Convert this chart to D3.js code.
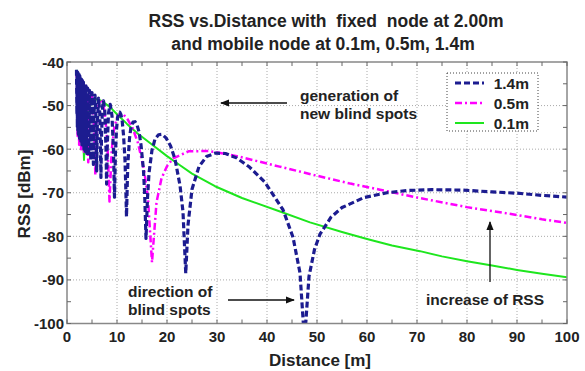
<!DOCTYPE html>
<html>
<head>
<meta charset="utf-8">
<script src="https://cdn.jsdelivr.net/npm/d3@7"></script>
<style>
  body { margin: 0; background: #fff; }
  svg text { font-family: Arial, "Liberation Sans", sans-serif; font-weight: bold; fill: #222; white-space: pre; }
</style>
</head>
<body>
<svg id="chart" width="585" height="371"></svg>
<script>
// tick values
const xTicks = [0, 10, 20, 30, 40, 50, 60, 70, 80, 90, 100];
const yTicks = [-40, -50, -60, -70, -80, -90, -100];
const seriesNames = ['1.4m', '0.5m', '0.1m'];

// RSS [dBm] vs distance [m]
const rss14 = [
  [1.9,-41.8],[1.98,-52],[2.02,-42.1],[2.07,-55],[2.11,-42.3],[2.16,-56],[2.21,-42.5],[2.26,-56.5],
  [2.32,-42.7],[2.38,-57],[2.44,-42.9],[2.5,-57.5],[2.57,-43.2],[2.64,-58],[2.71,-43.5],[2.79,-58.5],
  [2.88,-43.9],[2.97,-59],[3.07,-44.2],[3.17,-59.5],[3.28,-44.6],[3.39,-60],[3.52,-45],[3.65,-60.5],
  [3.8,-45.5],[3.96,-61],[4.13,-46],[4.32,-61.5],[4.5,-46.5],[4.75,-62.5],[4.9,-48.5],[5.0,-47],
  [5.15,-51],[5.28,-63.5],[5.4,-52],[5.6,-47.6],[5.8,-52.8],[5.94,-65],[6.05,-54.9],[6.3,-48.3],
  [6.55,-51.5],[6.79,-66.5],[6.9,-57.2],[7.1,-50.3],[7.3,-48.9],[7.55,-51],[7.8,-60],[7.92,-68],
  [8.05,-59.4],[8.3,-51.7],[8.64,-49.7],[9.0,-52.4],[9.3,-60.6],[9.5,-71],
  [9.69,-60.9],[9.9,-55.5],[10.1,-52.9],[10.3,-51.7],[10.56,-51.5],[10.8,-52.1],[11.05,-53.7],
  [11.3,-56.7],[11.6,-62.5],[11.75,-68.4],[11.9,-75.5],
  [12.1,-65.8],[12.2,-62.8],[12.5,-57.5],[12.8,-54.9],[13.2,-53.8],[13.6,-53.7],[14.0,-54.4],
  [14.4,-56.0],[14.8,-59.0],[15.3,-64.9],[15.55,-70.9],[15.8,-80.5],
  [16.1,-71.2],[16.4,-65.5],[17,-60.2],[17.6,-57.7],[18.3,-56.7],[19,-56.6],[19.8,-57.4],
  [20.7,-59.2],[21.6,-62.3],[22.6,-68.3],[23.2,-74.4],[23.75,-88.5],
  [24.2,-77.4],[25,-69.2],[26.4,-64],[27.9,-61.7],[29.7,-60.9],[31.7,-61],[33.9,-62],
  [36.5,-64.1],[39.6,-67.6],[43.2,-73.9],[45.2,-80.2],[46.6,-88.4],[47.5,-104],
  [48.4,-89.2],[49.5,-83],[50.6,-79.5],[52.8,-75.6],[55,-73.4],[59.4,-71.1],[64,-70],
  [67.9,-69.5],[73,-69.3],[79.2,-69.4],[85,-69.8],[90,-70.1],[95,-70.6],[100,-71]
];
const rss05 = [
  [1.9,-42],[2.0,-45],[2.13,-57],[2.27,-43],[2.43,-59],[2.62,-43.7],[2.83,-60],[2.95,-50],
  [3.1,-44.4],[3.25,-50],[3.4,-61],[3.55,-49.4],[3.78,-45.5],[4.02,-49.3],[4.25,-63],[4.4,-53.6],
  [4.6,-48.3],[4.86,-46.8],[5.15,-49],[5.45,-56.2],[5.67,-66],[5.85,-58.1],[6.07,-52.7],[6.3,-50.1],
  [6.54,-48.8],[6.8,-48.7],[7.08,-49.2],[7.4,-50.7],[7.73,-53.6],[8.1,-59.4],[8.3,-65.3],[8.5,-72],
  [8.72,-65.9],[8.95,-60.2],[9.44,-55.1],[10,-52.8],[10.6,-51.9],[11.33,-52.1],[12.1,-53.1],
  [13.1,-55.1],[14.2,-58.6],[15.45,-65],[16.2,-71.3],[17,-86],[17.3,-81.3],[17.9,-72.2],
  [18.9,-66.7],[20,-63.9],[21.25,-62.1],[24.3,-60.5],[28.3,-60.4],[34,-61.6],[42.5,-64],
  [50,-66.1],[56.7,-67.9],[62.6,-69.3],[70,-71.1],[80,-73.3],[85,-74.2],[90,-75.1],[95,-76.1],[100,-76.9]
];
const rss01 = [
  [1.9,-41.8],[2.1,-43.5],[2.4,-46.5],[2.7,-49.5],[2.95,-52.5],[3.15,-55.5],[3.3,-59],[3.4,-62.5],
  [3.5,-59.5],[3.7,-55.5],[4.0,-52.5],[4.4,-50.5],[5.0,-49],[5.6,-48.6],[6.2,-48.6],[7,-49],
  [8,-49.8],[9,-50.8],[10,-52],[12,-54.2],[14,-56.3],[16.6,-58.6],[20,-61.6],[22.6,-63.7],
  [25,-65.6],[29.6,-68.5],[35,-71.2],[42.6,-74.3],[48.6,-76.8],[55,-79],[60,-80.6],[65,-82.1],
  [70.6,-83.4],[75,-84.6],[80,-85.7],[85,-86.7],[90,-87.7],[95,-88.6],[100,-89.4]
];

const svg = d3.select('#chart');
const pLeft = 67, pRight = 567, pTop = 62, pBottom = 323.5;

const x = d3.scaleLinear().domain([0, 100]).range([pLeft, pRight]);
const y = d3.scaleLinear().domain([-100, -40]).range([pBottom, pTop]);

// grid
const grid = svg.append('g').attr('stroke', '#aaa').attr('stroke-dasharray', '1,2').attr('stroke-width', 1);
grid.selectAll('.gx').data(xTicks.slice(1, -1)).enter().append('line')
  .attr('x1', d => x(d)).attr('x2', d => x(d)).attr('y1', pTop).attr('y2', pBottom);
grid.selectAll('.gy').data(yTicks.slice(1, -1)).enter().append('line')
  .attr('y1', d => y(d)).attr('y2', d => y(d)).attr('x1', pLeft).attr('x2', pRight);

// series
svg.append('clipPath').attr('id', 'clip').append('rect')
  .attr('x', pLeft).attr('y', pTop).attr('width', pRight - pLeft).attr('height', pBottom - pTop);

const line = d3.line().x(d => x(d[0])).y(d => y(d[1]));
const styles = [
  { data: rss14, color: '#1c1c90', width: 3.2, dash: '6,3' },
  { data: rss05, color: '#ff00ff', width: 2.5, dash: '7,3,2,3' },
  { data: rss01, color: '#1ee61e', width: 2, dash: null }
];
const plot = svg.append('g').attr('clip-path', 'url(#clip)');
styles.slice().reverse().forEach(s => {
  plot.append('path').datum(s.data)
    .attr('fill', 'none').attr('stroke', s.color).attr('stroke-width', s.width)
    .attr('stroke-dasharray', s.dash).attr('stroke-linejoin', 'round')
    .attr('d', line);
});

// frame and ticks
svg.append('rect').attr('x', pLeft).attr('y', pTop).attr('width', pRight - pLeft).attr('height', pBottom - pTop)
  .attr('fill', 'none').attr('stroke', '#888').attr('stroke-width', 1.5);

const xMinor = d3.range(0, 101, 5), yMinor = d3.range(-100, -39, 5);
const ticks = svg.append('g').attr('stroke', '#666').attr('stroke-width', 1);
xMinor.forEach(v => {
  ticks.append('line').attr('x1', x(v)).attr('x2', x(v)).attr('y1', pBottom).attr('y2', pBottom - 4);
  ticks.append('line').attr('x1', x(v)).attr('x2', x(v)).attr('y1', pTop).attr('y2', pTop + 4);
});
yMinor.forEach(v => {
  ticks.append('line').attr('y1', y(v)).attr('y2', y(v)).attr('x1', pLeft).attr('x2', pLeft + 4);
  ticks.append('line').attr('y1', y(v)).attr('y2', y(v)).attr('x1', pRight).attr('x2', pRight - 4);
});

svg.selectAll('.xl').data(xTicks).enter().append('text')
  .attr('x', d => x(d)).attr('y', 342).attr('text-anchor', 'middle')
  .attr('font-size', 15).text(d => d);
svg.selectAll('.yl').data(yTicks).enter().append('text')
  .attr('x', pLeft - 3).attr('y', d => y(d) + 5.5).attr('text-anchor', 'end')
  .attr('font-size', 15).text(d => d);

// axis titles
svg.append('text').attr('x', 320).attr('y', 366).attr('text-anchor', 'middle')
  .attr('font-size', 17).text('Distance [m]');
svg.append('text').attr('transform', 'translate(30,194) rotate(-90)').attr('text-anchor', 'middle')
  .attr('font-size', 17).text('RSS [dBm]');

// title
svg.append('text').attr('x', 326).attr('y', 27).attr('text-anchor', 'middle')
  .attr('font-size', 17.5).text('RSS vs.Distance with  fixed  node at 2.00m');
svg.append('text').attr('x', 323).attr('y', 50).attr('text-anchor', 'middle')
  .attr('font-size', 17.5).text('and mobile node at 0.1m, 0.5m, 1.4m');

// legend
const lg = svg.append('g');
lg.append('rect').attr('x', 447).attr('y', 73).attr('width', 91).attr('height', 58)
  .attr('fill', '#fff').attr('stroke', '#444').attr('stroke-dasharray', '1,2');
styles.forEach((s, i) => {
  const ly = 83 + i * 20;
  lg.append('line').attr('x1', 455).attr('x2', 484).attr('y1', ly).attr('y2', ly)
    .attr('stroke', s.color).attr('stroke-width', s.width).attr('stroke-dasharray', s.dash);
  lg.append('text').attr('x', 529).attr('y', ly + 5.5).attr('text-anchor', 'end')
    .attr('font-size', 15.5).text(seriesNames[i]);
});

// annotations
svg.append('defs').append('marker').attr('id', 'ah').attr('viewBox', '0 0 10 10')
  .attr('refX', 9).attr('refY', 5).attr('markerWidth', 7).attr('markerHeight', 7)
  .attr('orient', 'auto').append('path').attr('d', 'M0,1 L10,5 L0,9 z').attr('fill', '#111');
const arrow = (x1, y1, x2, y2) => svg.append('line')
  .attr('x1', x1).attr('y1', y1).attr('x2', x2).attr('y2', y2)
  .attr('stroke', '#111').attr('stroke-width', 1.3).attr('marker-end', 'url(#ah)');
arrow(287, 103, 221, 103);
arrow(228, 300, 294, 300);
arrow(490, 282, 490, 222);

const note = (tx, ty, lines) => lines.forEach((t, i) =>
  svg.append('text').attr('x', tx).attr('y', ty + i * 17.5).attr('font-size', 15.5).text(t));
note(300, 101, ['generation of', 'new blind spots']);
note(128, 297, ['direction of', 'blind spots']);
note(426, 305, ['increase of RSS']);
</script>
</body>
</html>
